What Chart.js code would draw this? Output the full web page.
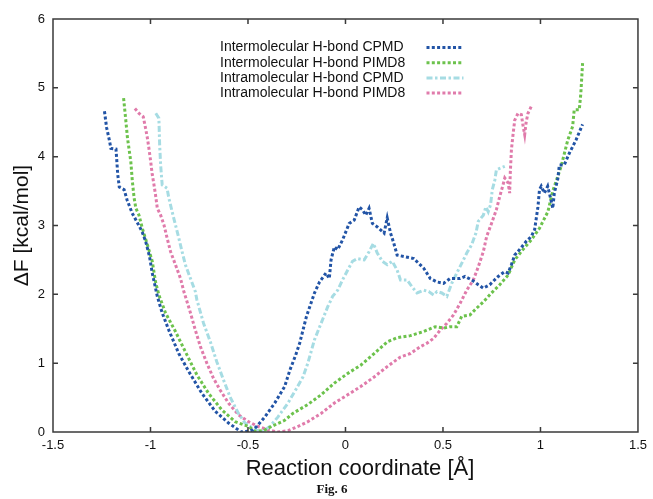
<!DOCTYPE html>
<html>
<head>
<meta charset="utf-8">
<script src="https://cdn.jsdelivr.net/npm/chart.js@4/dist/chart.umd.min.js"></script>
<style>
  html, body { margin: 0; padding: 0; background: #ffffff; }
  #wrap { width: 653px; height: 499px; }
</style>
</head>
<body>
<div id="wrap"><canvas id="c" width="653" height="499"></canvas></div>
<script>
// ---------- data ----------
const seriesLabels = [
  'Intermolecular H-bond CPMD',
  'Intermolecular H-bond PIMD8',
  'Intramolecular H-bond CPMD',
  'Intramolecular H-bond PIMD8'
];

const xTicks = [-1.5, -1, -0.5, 0, 0.5, 1, 1.5];
const yTicks = [0, 1, 2, 3, 4, 5, 6];
const xTitle = 'Reaction coordinate [Å]';
const yTitle = 'ΔF [kcal/mol]';
const caption = 'Fig. 6';

const interCpmdX = [-1.236,-1.225,-1.211,-1.203,-1.177,-1.173,-1.168,-1.160,-1.135,-1.120,-1.094,-1.069,-1.043,-1.025,-1.005,-0.991,-0.965,-0.940,-0.906,-0.855,-0.804,-0.736,-0.668,-0.600,-0.549,-0.533,-0.500,-0.475,-0.456,-0.413,-0.363,-0.312,-0.285,-0.255,-0.235,-0.200,-0.159,-0.133,-0.100,-0.083,-0.074,-0.057,-0.040,-0.015,0.019,0.045,0.070,0.087,0.104,0.121,0.138,0.163,0.198,0.214,0.231,0.248,0.265,0.299,0.350,0.401,0.435,0.469,0.503,0.537,0.588,0.613,0.647,0.681,0.707,0.740,0.783,0.817,0.834,0.851,0.868,0.893,0.927,0.953,0.970,0.987,0.995,1.004,1.020,1.037,1.054,1.063,1.071,1.089,1.097,1.122,1.148,1.182,1.216];
const interCpmdY = [4.66,4.42,4.24,4.12,4.11,3.95,3.74,3.56,3.52,3.37,3.18,3.05,2.91,2.77,2.55,2.31,1.97,1.73,1.48,1.14,0.88,0.56,0.30,0.13,0.03,0.00,0.01,0.03,0.08,0.22,0.42,0.66,0.90,1.12,1.29,1.68,2.02,2.18,2.31,2.23,2.50,2.69,2.65,2.79,3.03,3.08,3.27,3.23,3.15,3.25,3.03,2.98,2.89,3.11,2.89,2.74,2.57,2.55,2.52,2.38,2.23,2.18,2.16,2.23,2.23,2.26,2.21,2.14,2.09,2.14,2.26,2.33,2.31,2.43,2.57,2.65,2.77,2.84,2.94,3.27,3.52,3.57,3.47,3.57,3.37,3.25,3.47,3.68,3.88,3.88,4.05,4.24,4.47];

const interPimdX = [-1.138,-1.126,-1.118,-1.101,-1.093,-1.084,-1.075,-1.059,-1.042,-1.016,-0.991,-0.974,-0.957,-0.923,-0.872,-0.813,-0.762,-0.702,-0.634,-0.566,-0.498,-0.464,-0.420,-0.380,-0.312,-0.270,-0.193,-0.125,-0.057,0.011,0.078,0.147,0.214,0.265,0.333,0.401,0.460,0.503,0.537,0.571,0.596,0.638,0.673,0.707,0.749,0.791,0.834,0.868,0.910,0.953,0.995,1.038,1.063,1.105,1.140,1.165,1.173,1.199,1.207,1.216];
const interPimdY = [4.85,4.51,4.27,3.93,3.64,3.40,3.25,3.15,2.96,2.72,2.48,2.18,1.99,1.73,1.46,1.12,0.83,0.56,0.32,0.15,0.08,0.01,0.02,0.08,0.17,0.27,0.40,0.54,0.71,0.85,0.97,1.14,1.31,1.37,1.40,1.46,1.53,1.51,1.53,1.53,1.68,1.70,1.80,1.89,2.02,2.14,2.28,2.50,2.65,2.79,2.96,3.20,3.50,3.85,4.24,4.44,4.68,4.68,4.92,5.36];

const intraCpmdX = [-0.973,-0.957,-0.953,-0.948,-0.940,-0.915,-0.906,-0.889,-0.872,-0.855,-0.838,-0.821,-0.795,-0.770,-0.762,-0.728,-0.693,-0.660,-0.626,-0.592,-0.549,-0.515,-0.473,-0.431,-0.388,-0.346,-0.295,-0.252,-0.218,-0.193,-0.159,-0.125,-0.091,-0.066,-0.040,-0.015,0.011,0.036,0.062,0.096,0.121,0.143,0.163,0.189,0.214,0.240,0.265,0.282,0.316,0.341,0.367,0.401,0.427,0.452,0.469,0.494,0.520,0.545,0.571,0.596,0.622,0.647,0.669,0.681,0.707,0.720,0.732,0.744,0.753,0.766,0.774,0.791,0.817];
const intraCpmdY = [4.63,4.56,4.17,3.88,3.59,3.54,3.40,3.20,3.01,2.82,2.62,2.43,2.23,2.04,1.92,1.58,1.31,1.02,0.76,0.51,0.27,0.13,0.05,0.00,0.08,0.22,0.42,0.63,0.80,1.00,1.34,1.58,1.82,1.97,2.06,2.21,2.35,2.48,2.52,2.50,2.62,2.74,2.60,2.48,2.43,2.48,2.35,2.21,2.21,2.11,2.02,2.06,2.04,1.99,2.04,2.02,1.97,2.16,2.31,2.45,2.60,2.72,2.89,3.06,3.15,3.27,3.20,3.30,3.52,3.66,3.81,3.83,3.86];

const intraPimdX = [-1.080,-1.059,-1.037,-1.025,-1.016,-1.008,-0.999,-0.991,-0.982,-0.974,-0.965,-0.948,-0.931,-0.915,-0.897,-0.872,-0.846,-0.829,-0.821,-0.795,-0.770,-0.744,-0.711,-0.677,-0.643,-0.600,-0.549,-0.498,-0.447,-0.396,-0.346,-0.295,-0.244,-0.193,-0.125,-0.057,0.011,0.078,0.147,0.214,0.282,0.333,0.384,0.418,0.452,0.486,0.520,0.554,0.588,0.622,0.656,0.681,0.707,0.724,0.749,0.774,0.791,0.808,0.817,0.834,0.842,0.845,0.851,0.860,0.868,0.885,0.902,0.910,0.919,0.927,0.936,0.953];
const intraPimdY = [4.70,4.63,4.58,4.41,4.27,4.12,3.93,3.74,3.59,3.44,3.25,3.15,3.01,2.82,2.62,2.43,2.23,2.04,1.97,1.73,1.48,1.24,1.00,0.78,0.61,0.42,0.25,0.15,0.08,0.03,0.00,0.02,0.08,0.15,0.27,0.42,0.54,0.66,0.80,0.95,1.09,1.14,1.24,1.29,1.36,1.48,1.58,1.70,1.87,2.06,2.21,2.40,2.62,2.84,3.03,3.23,3.42,3.59,3.69,3.62,3.47,3.75,4.10,4.34,4.53,4.63,4.61,4.46,4.32,4.51,4.63,4.73];

const seriesColors = ['#2254a6', '#6cc24c', '#a6dce3', '#e07bab'];
const seriesDashes = [[3, 2.3], [3, 2.3], [6, 2.5, 2.5, 2.5], [3, 2.3]];

// ---------- build ----------
const pairs = (xs, ys) => xs.map((v, i) => ({ x: v, y: ys[i] }));
const allX = [interCpmdX, interPimdX, intraCpmdX, intraPimdX];
const allY = [interCpmdY, interPimdY, intraCpmdY, intraPimdY];

const datasets = seriesLabels.map((lab, i) => ({
  label: lab,
  data: pairs(allX[i], allY[i]),
  showLine: true,
  borderColor: seriesColors[i],
  backgroundColor: seriesColors[i],
  borderWidth: 3,
  borderDash: seriesDashes[i],
  borderCapStyle: 'butt',
  pointRadius: 0,
  tension: 0,
  fill: false
}));

const SANS = "'Liberation Sans', Arial, Helvetica, sans-serif";

const framePlugin = {
  id: 'frame',
  afterDraw(chart) {
    const { ctx, chartArea: a, scales } = chart;
    const xs = scales.x, ys = scales.y;
    ctx.save();
    ctx.strokeStyle = '#3a3a3a';
    ctx.lineWidth = 1.5;
    ctx.setLineDash([]);
    ctx.strokeRect(a.left, a.top, a.right - a.left, a.bottom - a.top);
    ctx.beginPath();
    const tl = 5;
    xs.ticks.forEach(t => {
      const p = xs.getPixelForValue(t.value);
      if (p > a.left + 1 && p < a.right - 1) {
        ctx.moveTo(p, a.bottom); ctx.lineTo(p, a.bottom - tl);
        ctx.moveTo(p, a.top); ctx.lineTo(p, a.top + tl);
      }
    });
    ys.ticks.forEach(t => {
      const p = ys.getPixelForValue(t.value);
      if (p > a.top + 1 && p < a.bottom - 1) {
        ctx.moveTo(a.left, p); ctx.lineTo(a.left + tl, p);
        ctx.moveTo(a.right, p); ctx.lineTo(a.right - tl, p);
      }
    });
    ctx.stroke();

    // key (gnuplot style: text then sample line)
    ctx.font = '14px ' + SANS;
    ctx.fillStyle = '#111';
    ctx.textAlign = 'left';
    ctx.textBaseline = 'middle';
    const rowY0 = 47.5, rowStep = 15.2;
    chart.data.datasets.forEach((ds, i) => {
      const yy = rowY0 + i * rowStep;
      ctx.fillText(ds.label, 220, yy);
      ctx.save();
      ctx.strokeStyle = ds.borderColor;
      ctx.lineWidth = ds.borderWidth;
      ctx.lineCap = 'butt';
      ctx.setLineDash(ds.borderDash);
      ctx.beginPath();
      ctx.moveTo(426.5, yy);
      ctx.lineTo(463.5, yy);
      ctx.stroke();
      ctx.restore();
    });

    // x axis title (centred on the page like the original)
    ctx.font = '22px ' + SANS;
    ctx.fillStyle = '#111';
    ctx.textAlign = 'center';
    ctx.textBaseline = 'middle';
    ctx.fillText(xTitle, 360, 469);

    // figure caption
    ctx.font = "bold 13px 'Liberation Serif', 'Times New Roman', serif";
    ctx.fillText(caption, 332, 490);
    ctx.restore();
  }
};

new Chart(document.getElementById('c'), {
  type: 'scatter',
  data: { datasets },
  options: {
    responsive: false,
    animation: false,
    devicePixelRatio: 1,
    layout: { padding: { top: 19, right: 10, left: 0, bottom: 0 } },
    plugins: {
      legend: { display: false },
      tooltip: { enabled: false },
      title: { display: false }
    },
    scales: {
      x: {
        type: 'linear',
        min: -1.5, max: 1.5,
        afterBuildTicks: s => { s.ticks = xTicks.map(v => ({ value: v })); },
        afterFit: s => { s.height = 67; },
        grid: { display: false, drawTicks: false },
        border: { display: false },
        ticks: { padding: 6, color: '#111', font: { family: SANS, size: 13 }, maxRotation: 0,
                 callback: v => String(v) },
        title: { display: false, text: xTitle }
      },
      y: {
        type: 'linear',
        min: 0, max: 6,
        afterBuildTicks: s => { s.ticks = yTicks.map(v => ({ value: v })); },
        afterFit: s => { s.width = 53; },
        grid: { display: false, drawTicks: false },
        border: { display: false },
        ticks: { padding: 8, color: '#111', font: { family: SANS, size: 13 },
                 callback: v => String(v) },
        title: { display: true, text: yTitle, color: '#111',
                 font: { family: SANS, size: 21 }, padding: { top: 10, bottom: 0 } }
      }
    }
  },
  plugins: [framePlugin]
});
</script>
</body>
</html>
